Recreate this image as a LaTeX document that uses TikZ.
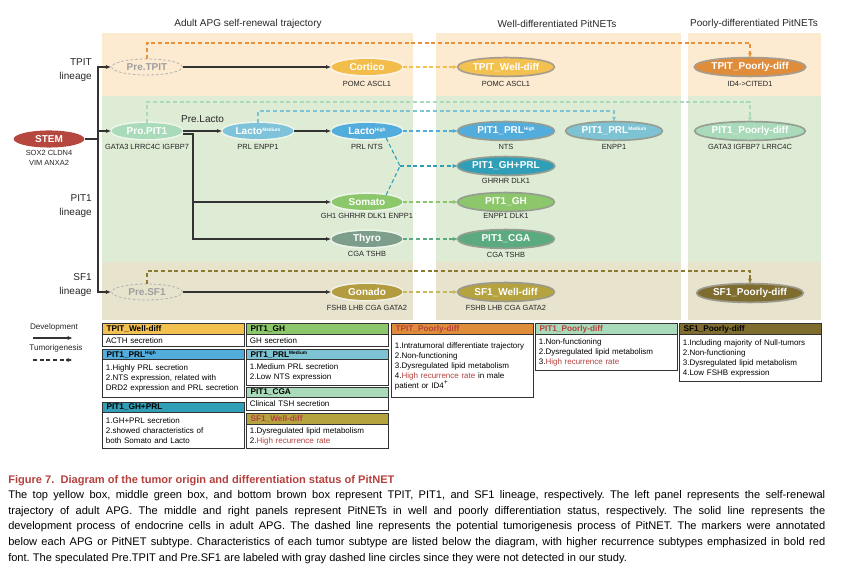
\documentclass[tikz,border=0pt]{standalone}
\usepackage{fontspec}
\setmainfont{Liberation Sans}
\usetikzlibrary{arrows.meta,shapes.geometric}

\definecolor{bandtop}{HTML}{FCEAD1}
\definecolor{bandmid}{HTML}{DEEBD5}
\definecolor{bandbot}{HTML}{E7E3CD}
\definecolor{stemred}{HTML}{B6473F}
\definecolor{cortico}{HTML}{F3BD4C}
\definecolor{propit}{HTML}{A9DABA}
\definecolor{lactomed}{HTML}{7EC3D9}
\definecolor{lactohigh}{HTML}{52ACDC}
\definecolor{somato}{HTML}{8DC76B}
\definecolor{thyro}{HTML}{7E9E8C}
\definecolor{gonado}{HTML}{B29C3F}
\definecolor{tpitwell}{HTML}{F3C14F}
\definecolor{prlmed}{HTML}{7EC3D3}
\definecolor{ghprl}{HTML}{2F9EB6}
\definecolor{pitcga}{HTML}{5BAA80}
\definecolor{sfwell}{HTML}{B4A33E}
\definecolor{tpitpoor}{HTML}{DF8D3B}
\definecolor{sfpoor}{HTML}{7F6D2F}
\definecolor{orangec}{HTML}{E8923C}
\definecolor{olivec}{HTML}{8C7A30}
\definecolor{sfwellc}{HTML}{C8B860}
\definecolor{hired}{HTML}{B5413E}
\definecolor{devline}{HTML}{333333}

\newcommand{\supx}[1]{\raisebox{0.6ex}{\fontsize{3.6}{4}\selectfont #1}}

\begin{document}
\frenchspacing
\begin{tikzpicture}[x=0.75pt,y=-0.75pt,
  cell/.style={ellipse, inner sep=0pt, minimum width=53pt, minimum height=12pt,
    text=white, font=\fontsize{7.5}{9}\selectfont\bfseries,
    preaction={draw=white, line width=2.4pt, draw opacity=0.5}},
  precell/.style={ellipse, inner sep=0pt, minimum width=53pt, minimum height=12pt,
    draw=gray!60, line width=0.6pt, dash pattern=on 2pt off 1.5pt,
    text=gray!75, font=\fontsize{7.5}{9}\selectfont\bfseries},
  tumor/.style={ellipse, inner sep=0pt, minimum width=71pt, minimum height=12.8pt,
    text=white, font=\fontsize{7.5}{9}\selectfont\bfseries,
    preaction={draw=black!75, line width=2.6pt, draw opacity=0.45}},
  genes/.style={inner sep=0pt, align=center, text=black!85,
    font=\fontsize{5.6}{7.2}\selectfont},
  lineage/.style={inner sep=0pt, anchor=east, align=right, text=black!85,
    font=\fontsize{7.5}{10.5}\selectfont},
  paneltitle/.style={inner sep=0pt, text=black!85, font=\fontsize{7.5}{9}\selectfont},
  legendtext/.style={inner sep=0pt, text=black!85, font=\fontsize{6.1}{7}\selectfont},
  dev/.style={draw=devline, line width=0.8pt, -{Latex[length=4pt,width=3pt]}},
  tum/.style={draw=#1, line width=0.8pt, dash pattern=on 3pt off 2pt,
    -{Latex[length=4pt,width=3pt]}},
  tumline/.style={draw=#1, line width=0.8pt, dash pattern=on 3pt off 2pt},
  cardhead/.style={draw=black!80, line width=0.8pt, anchor=north west,
    inner xsep=3pt, inner ysep=0pt, text width=100.5pt, align=left,
    font=\fontsize{6.2}{7}\selectfont\bfseries},
  cardbody/.style={draw=black!80, line width=0.8pt, anchor=north west, fill=white,
    inner xsep=2.5pt, inner ysep=0pt, text width=101.5pt, align=left,
    font=\fontsize{6}{7.5}\selectfont}]
\useasboundingbox (0,0) rectangle (846,573);

% lineage bands
\fill[bandtop] (102,33) rectangle (413,96);
\fill[bandmid] (102,96) rectangle (413,262);
\fill[bandbot] (102,262) rectangle (413,320);
\fill[bandtop] (436,33) rectangle (681,96);
\fill[bandmid] (436,96) rectangle (681,262);
\fill[bandbot] (436,262) rectangle (681,320);
\fill[bandtop] (688,33) rectangle (821,96);
\fill[bandmid] (688,96) rectangle (821,262);
\fill[bandbot] (688,262) rectangle (821,320);

\node[paneltitle] (t1) at (248,24) {Adult APG self-renewal trajectory};
\node[paneltitle] (t2) at (557,24) {Well-differentiated PitNETs};
\node[paneltitle] (t3) at (754,24) {Poorly-differentiated PitNETs};

\node[lineage] (lin1) at (92,70) {TPIT\\lineage};
\node[lineage] (lin2) at (92,206) {PIT1\\lineage};
\node[lineage] (lin3) at (92,285) {SF1\\lineage};

% adult APG
\node[cell, fill=stemred, minimum height=12.8pt] (stem) at (49,139) {STEM};
\node[precell] (pretpit) at (147,67) {Pre.TPIT};
\node[cell, fill=cortico] (cortico) at (367,67) {Cortico};
\node[cell, fill=propit] (propit1) at (147,131) {Pro.PIT1};
\node[cell, fill=lactomed] (lactomed) at (258,131) {Lacto\supx{Medium}};
\node[cell, fill=lactohigh] (lactohigh) at (367,131) {Lacto\supx{High}};
\node[cell, fill=somato] (somato) at (367,202) {Somato};
\node[cell, fill=thyro] (thyro) at (367,239) {Thyro};
\node[precell] (presf1) at (147,292) {Pre.SF1};
\node[cell, fill=gonado] (gonado) at (367,292) {Gonado};

% PitNETs
\node[tumor, fill=tpitwell] (tpitwell) at (506,67) {TPIT\_Well-diff};
\node[tumor, fill=lactohigh] (prlhigh) at (506,131) {PIT1\_PRL\supx{High}};
\node[tumor, fill=prlmed] (prlmed) at (614,131) {PIT1\_PRL\supx{Medium}};
\node[tumor, fill=ghprl] (ghprl) at (506,166) {PIT1\_GH+PRL};
\node[tumor, fill=somato] (pitgh) at (506,202) {PIT1\_GH};
\node[tumor, fill=pitcga] (pitcga) at (506,239) {PIT1\_CGA};
\node[tumor, fill=sfwell] (sfwell) at (506,292) {SF1\_Well-diff};
\node[tumor, fill=tpitpoor] (tpitpoor) at (750,67) {TPIT\_Poorly-diff};
\node[tumor, fill=propit] (pitpoor) at (750,131) {PIT1\_Poorly-diff};
\node[tumor, fill=sfpoor] (sfpoor) at (750,293) {SF1\_Poorly-diff};

% markers
\node[genes] (g1) at (49,158) {SOX2 CLDN4\\VIM ANXA2};
\node[genes] (g2) at (367,84) {POMC ASCL1};
\node[genes] (g3) at (147,147) {GATA3 LRRC4C IGFBP7};
\node[genes] (g4) at (258,147) {PRL ENPP1};
\node[genes] (g5) at (367,147) {PRL NTS};
\node[genes] (g6) at (367,216) {GH1 GHRHR DLK1 ENPP1};
\node[genes] (g7) at (367,254) {CGA TSHB};
\node[genes] (g8) at (367,308) {FSHB LHB CGA GATA2};
\node[genes] (g9) at (506,84) {POMC ASCL1};
\node[genes] (g10) at (506,147) {NTS};
\node[genes] (g11) at (614,147) {ENPP1};
\node[genes] (g12) at (506,181) {GHRHR DLK1};
\node[genes] (g13) at (506,216) {ENPP1 DLK1};
\node[genes] (g14) at (506,255) {CGA TSHB};
\node[genes] (g15) at (506,308) {FSHB LHB CGA GATA2};
\node[genes] (g16) at (750,84) {ID4->CITED1};
\node[genes] (g17) at (750,147) {GATA3 IGFBP7 LRRC4C};

% development
\coordinate (trunk) at (98,139);
\coordinate (fork) at (193,134);
\draw[devline, line width=0.8pt] (stem) -- (trunk);
\draw[dev] (trunk) |- (pretpit);
\draw[dev] (trunk) |- (propit1);
\draw[dev] (trunk) |- (presf1);
\draw[dev] (pretpit) -- (cortico);
\draw[dev] (propit1) -- node[above=6pt, inner sep=0pt, font=\fontsize{7.5}{9}\selectfont, text=black!85] (prelacto) {Pre.Lacto} (lactomed);
\draw[dev] (lactomed) -- (lactohigh);
\draw[dev] (propit1.east |- fork) -- (fork) |- (thyro);
\draw[dev] (fork |- somato) -- (somato);
\draw[dev] (presf1) -- (gonado);

% tumorigenesis
\coordinate (lane1) at (0,43);
\coordinate (lane2) at (0,102);
\coordinate (lane3) at (0,111);
\coordinate (lane4) at (0,271);
\coordinate (join) at (400,166);
\draw[tum=orangec] (pretpit.north) -- (pretpit.north |- lane1) -| (tpitpoor.north);
\draw[tum=propit] (propit1.north) -- (propit1.north |- lane2) -| (pitpoor.north);
\draw[tum=prlmed] (lactomed.north) -- (lactomed.north |- lane3) -| (prlmed.north);
\draw[tum=olivec] (presf1.north) -- (presf1.north |- lane4) -| (sfpoor.north);
\draw[tum=tpitwell] (cortico) -- (tpitwell);
\draw[tum=lactohigh] (lactohigh) -- (prlhigh);
\draw[tumline=ghprl] (lactohigh.-20) -- (join);
\draw[tumline=ghprl] (somato.20) -- (join);
\draw[tum=ghprl] (join) -- (ghprl);
\draw[tum=somato] (somato) -- (pitgh);
\draw[tum=pitcga] (thyro) -- (pitcga);
\draw[tum=sfwellc] (gonado) -- (sfwell);

% legend
\node[legendtext] (devlab) at (54,327) {Development};
\coordinate (dev0) at (33,338);
\coordinate (dev1) at (73,338);
\draw[dev] (dev0) -- (dev1);
\node[legendtext] (tumlab) at (56,348) {Tumorigenesis};
\coordinate (tum0) at (33,360);
\coordinate (tum1) at (73,360);
\draw[tum=devline] (tum0) -- (tum1);

% subtype cards
\node[cardhead, fill=tpitwell, minimum height=8.25pt] (c1h) at (102,323) {TPIT\_Well-diff};
\node[cardbody, minimum height=9pt] (c1b) at (102,334) {ACTH secretion};
\node[cardhead, fill=lactohigh, minimum height=7.5pt] (c2h) at (102,349) {PIT1\_PRL\supx{High}};
\node[cardbody, minimum height=28.5pt] (c2b) at (102,359) {1.Highly PRL secretion\\2.NTS expression, related with\\\mbox{DRD2 expression and PRL secretion}};
\node[cardhead, fill=ghprl, minimum height=7.5pt] (c3h) at (102,402) {PIT1\_GH+PRL};
\node[cardbody, minimum height=27pt] (c3b) at (102,412) {1.GH+PRL secretion\\2.showed characteristics of\\both Somato and Lacto};

\node[cardhead, fill=somato, minimum height=8.25pt] (d1h) at (246,323) {PIT1\_GH};
\node[cardbody, minimum height=9pt] (d1b) at (246,334) {GH secretion};
\node[cardhead, fill=prlmed, minimum height=7.5pt] (d2h) at (246,349) {PIT1\_PRL\supx{Medium}};
\node[cardbody, minimum height=19.5pt] (d2b) at (246,359) {1.Medium PRL secretion\\2.Low NTS expression};
\node[cardhead, fill=propit, minimum height=7.5pt] (d3h) at (246,387) {PIT1\_CGA};
\node[cardbody, minimum height=9.75pt] (d3b) at (246,397) {Clinical TSH secretion};
\node[cardhead, fill=sfwell, text=hired, minimum height=8.25pt] (d4h) at (246,413) {SF1\_Well-diff};
\node[cardbody, minimum height=18pt] (d4b) at (246,424) {1.Dysregulated lipid metabolism\\2.\textcolor{hired}{High recurrence rate}};

\node[cardhead, fill=tpitpoor, text=hired, minimum height=8.25pt] (e1h) at (391,323) {TPIT\_Poorly-diff};
\node[cardbody, minimum height=47.25pt] (e1b) at (391,334) {\mbox{1.Intratumoral differentiate trajectory}\\2.Non-functioning\\3.Dysregulated lipid metabolism\\4.\textcolor{hired}{High recurrence rate} in male\\patient or ID4\textsuperscript{+}};

\node[cardhead, fill=propit, text=hired, minimum height=8.25pt] (f1h) at (535,323) {PIT1\_Poorly-diff};
\node[cardbody, minimum height=27pt] (f1b) at (535,334) {1.Non-functioning\\2.Dysregulated lipid metabolism\\3.\textcolor{hired}{High recurrence rate}};

\node[cardhead, fill=sfpoor, minimum height=8.25pt] (g1h) at (679,323) {SF1\_Poorly-diff};
\node[cardbody, minimum height=35.25pt] (g1b) at (679,334) {1.Including majority of Null-tumors\\2.Non-functioning\\3.Dysregulated lipid metabolism\\4.Low FSHB expression};

% caption
\node[anchor=base west, inner sep=0pt, text=hired, font=\fontsize{8.3}{11.85}\selectfont\bfseries] (captitle) at (8,483) {Figure 7.\ \ Diagram of the tumor origin and differentiation status of PitNET};
\node[anchor=north west, inner sep=0pt, text width=612.75pt, align=justify, font=\fontsize{8.3}{11.85}\selectfont] (captext) at (8,490) {\hyphenpenalty=10000 The top yellow box, middle green box, and bottom brown box represent TPIT, PIT1, and SF1 lineage, respectively. The left panel represents the self-renewal\linebreak trajectory of adult APG. The middle and right panels represent PitNETs in well and poorly differentiation status, respectively. The solid line represents the\linebreak development process of endocrine cells in adult APG. The dashed line represents the potential tumorigenesis process of PitNET. The markers were annotated\linebreak below each APG or PitNET subtype. Characteristics of each tumor subtype are listed below the diagram, with higher recurrence subtypes emphasized in bold red\linebreak font. The speculated Pre.TPIT and Pre.SF1 are labeled with gray dashed line circles since they were not detected in our study.};
\end{tikzpicture}
\end{document}
